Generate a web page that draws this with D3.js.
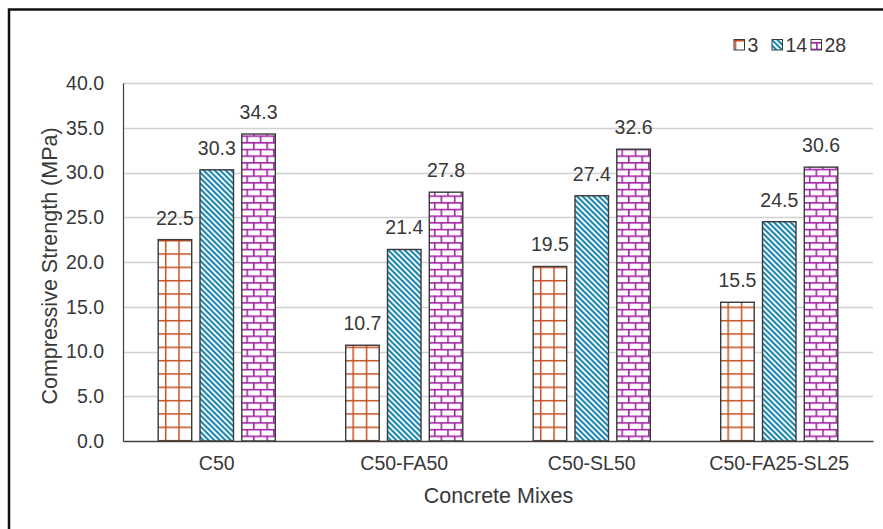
<!DOCTYPE html>
<html>
<head>
<meta charset="utf-8">
<script src="https://cdn.jsdelivr.net/npm/d3@7/dist/d3.min.js"></script>
<style>
  html, body { margin: 0; padding: 0; background: #fff; }
  svg { display: block; font-family: "Liberation Sans", Arial, sans-serif; }
</style>
</head>
<body>
<svg id="chart" width="883" height="529"></svg>
<script>
// Compressive strength of concrete mixes at 3, 14 and 28 days
const mixes = ["C50", "C50-FA50", "C50-SL50", "C50-FA25-SL25"];
const ages = ["3", "14", "28"];
const day3 = [22.5, 10.7, 19.5, 15.5];
const day14 = [30.3, 21.4, 27.4, 24.5];
const day28 = [34.3, 27.8, 32.6, 30.6];
const yTicks = [0, 5, 10, 15, 20, 25, 30, 35, 40];

const seriesValues = [day3, day14, day28];
const patternIds = ["pat-grid", "pat-diag", "pat-brick"];
const textColor = "#383838";
const labelFont = "19.5px";
const titleFont = "21.5px";

const svg = d3.select("#chart");
const defs = svg.append("defs");

// Grid pattern (3 days)
const g1 = defs.append("pattern").attr("id", "pat-grid")
  .attr("patternUnits", "userSpaceOnUse").attr("width", 13.33).attr("height", 13.33)
  .attr("x", 1.5).attr("y", 0);
g1.append("rect").attr("width", 13.33).attr("height", 13.33).attr("fill", "#fff");
g1.append("line").attr("x1", 0.75).attr("y1", 0).attr("x2", 0.75).attr("y2", 13.33)
  .attr("stroke", "#c5501f").attr("stroke-width", 1.5);
g1.append("line").attr("x1", 0).attr("y1", 0.75).attr("x2", 13.33).attr("y2", 0.75)
  .attr("stroke", "#c5501f").attr("stroke-width", 1.5);

// Downward diagonal stripes (14 days)
const dp = 3.9;
const g2 = defs.append("pattern").attr("id", "pat-diag")
  .attr("patternUnits", "userSpaceOnUse").attr("width", dp).attr("height", dp)
  .attr("patternTransform", "rotate(45)");
g2.append("rect").attr("width", dp).attr("height", dp).attr("fill", "#fff");
g2.append("rect").attr("width", dp).attr("height", 2.1).attr("fill", "#1b86ad");

// Brick pattern (28 days)
const bw = 13.33, bh = 6.67;
const g3 = defs.append("pattern").attr("id", "pat-brick")
  .attr("patternUnits", "userSpaceOnUse").attr("width", bw).attr("height", bh * 2)
  .attr("x", 3).attr("y", 2);
g3.append("rect").attr("width", bw).attr("height", bh * 2).attr("fill", "#fff");
const brickColor = "#a121a6";
g3.append("line").attr("x1", 0).attr("x2", bw).attr("y1", 0.75).attr("y2", 0.75)
  .attr("stroke", brickColor).attr("stroke-width", 1.6);
g3.append("line").attr("x1", 0).attr("x2", bw).attr("y1", bh + 0.75).attr("y2", bh + 0.75)
  .attr("stroke", brickColor).attr("stroke-width", 1.6);
g3.append("line").attr("x1", 0.75).attr("x2", 0.75).attr("y1", 0).attr("y2", bh)
  .attr("stroke", brickColor).attr("stroke-width", 1.6);
g3.append("line").attr("x1", bw / 2 + 0.75).attr("x2", bw / 2 + 0.75).attr("y1", bh).attr("y2", bh * 2)
  .attr("stroke", brickColor).attr("stroke-width", 1.6);

// Outer frame
svg.append("rect").attr("x", 9).attr("y", 9.5).attr("width", 900).attr("height", 600)
  .attr("fill", "none").attr("stroke", "#111").attr("stroke-width", 2.5);

const margin = { left: 123, right: 873, top: 83, bottom: 441 };

const x0 = d3.scaleBand().domain(mixes).range([margin.left, margin.right]).paddingInner(0).paddingOuter(0);
const y = d3.scaleLinear().domain([0, 40]).range([margin.bottom, margin.top]);

const barW = 33.5, barGap = 8.3;
const x1 = d3.scaleBand().domain(ages)
  .range([-(barW * 1.5 + barGap), barW * 1.5 + barGap])
  .paddingInner(barGap / (barW + barGap)).paddingOuter(0);

// Gridlines
svg.append("g").selectAll("line").data(yTicks.filter(t => t > 0)).join("line")
  .attr("x1", margin.left).attr("x2", margin.right)
  .attr("y1", d => Math.round(y(d)) + 0.5).attr("y2", d => Math.round(y(d)) + 0.5)
  .attr("stroke", "#d0d0d0").attr("stroke-width", 1.3);

// Y axis
const yAxis = svg.append("g").attr("transform", `translate(${margin.left},0)`)
  .call(d3.axisLeft(y).tickValues(yTicks).tickFormat(d3.format(".1f")).tickSize(0).tickPadding(19));
yAxis.select(".domain").attr("stroke", "#404040").attr("stroke-width", 1.2);
yAxis.selectAll(".tick text").attr("fill", textColor).style("font-size", labelFont)
  .style("font-family", "'Liberation Sans', Arial, sans-serif");

// Bars
const groups = svg.append("g").selectAll("g").data(mixes).join("g")
  .attr("transform", d => `translate(${x0(d) + x0.bandwidth() / 2},0)`);

ages.forEach((age, si) => {
  groups.append("rect")
    .attr("x", x1(age))
    .attr("width", x1.bandwidth())
    .attr("y", (d, i) => y(seriesValues[si][i]))
    .attr("height", (d, i) => y(0) - y(seriesValues[si][i]))
    .attr("fill", `url(#${patternIds[si]})`)
    .attr("stroke", "#3a3a3a").attr("stroke-width", 1.4);
  groups.append("text")
    .attr("x", x1(age) + x1.bandwidth() / 2)
    .attr("y", (d, i) => y(seriesValues[si][i]) - 15)
    .attr("text-anchor", "middle")
    .attr("fill", textColor).style("font-size", labelFont)
    .text((d, i) => seriesValues[si][i].toFixed(1));
});

// X axis
const xAxis = svg.append("g").attr("transform", `translate(0,${margin.bottom})`)
  .call(d3.axisBottom(x0).tickSize(0).tickPadding(15));
xAxis.select(".domain").attr("stroke", "#404040").attr("stroke-width", 1.3);
xAxis.selectAll(".tick text").attr("fill", textColor).style("font-size", labelFont)
  .style("font-family", "'Liberation Sans', Arial, sans-serif");

// Axis titles
svg.append("text").attr("x", (margin.left + margin.right) / 2 + 0.5).attr("y", 503)
  .attr("text-anchor", "middle").attr("fill", textColor).style("font-size", titleFont)
  .text("Concrete Mixes");
svg.append("text").attr("transform", `translate(57,${(margin.top + margin.bottom) / 2 + 4}) rotate(-90)`)
  .attr("text-anchor", "middle").attr("fill", textColor).style("font-size", titleFont)
  .text("Compressive Strength (MPa)");

// Legend
const legendX = [734, 772, 811];
const legend = svg.append("g");
ages.forEach((age, si) => {
  legend.append("rect").attr("x", legendX[si]).attr("y", 39.5).attr("width", 10.5).attr("height", 10.5)
    .attr("fill", `url(#${patternIds[si]})`).attr("stroke", "#3a3a3a").attr("stroke-width", 1);
  legend.append("text").attr("x", legendX[si] + 13.5).attr("y", 52)
    .attr("fill", textColor).style("font-size", labelFont).text(age);
});
</script>
</body>
</html>
